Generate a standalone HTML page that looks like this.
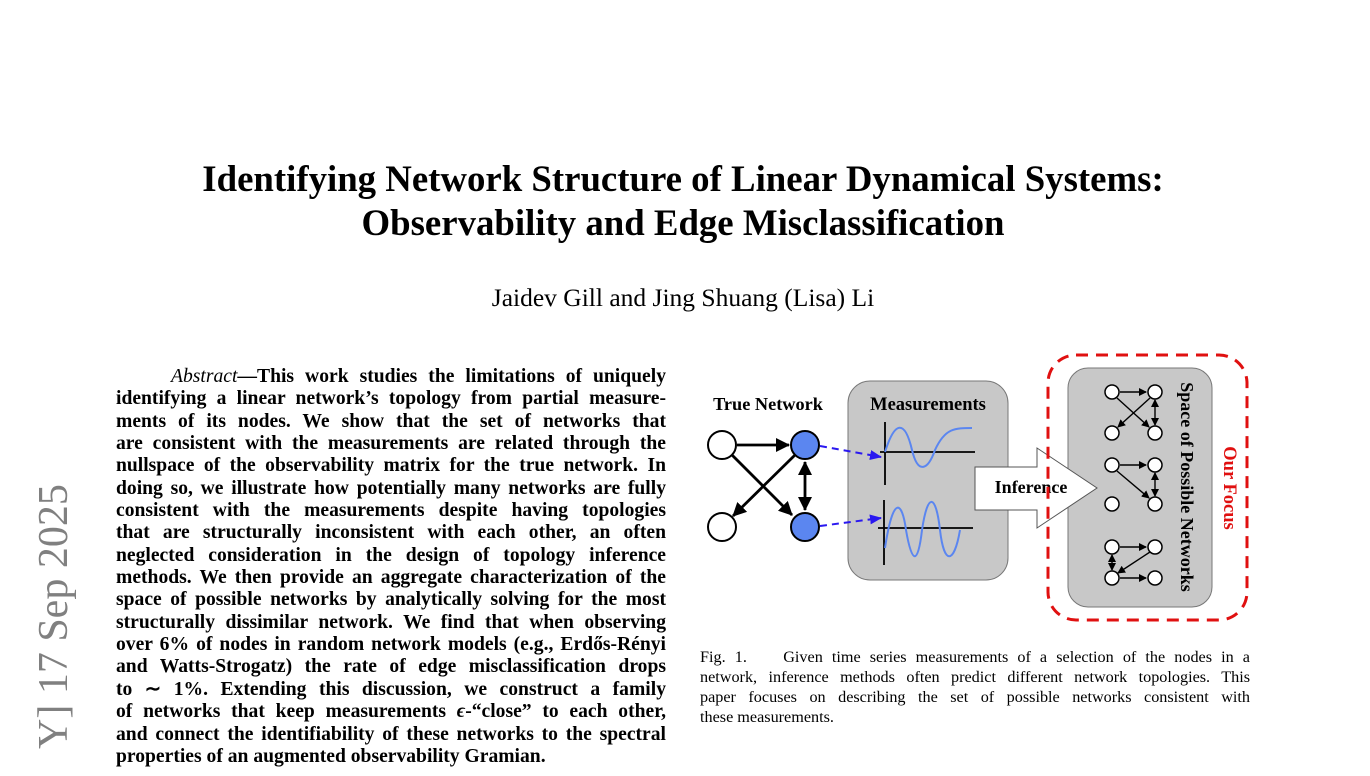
<!DOCTYPE html>
<html><head><meta charset="utf-8"><style>
body{margin:0;width:1370px;height:776px;background:#fff;position:relative;overflow:hidden;font-family:"Liberation Serif",serif;color:#000}
.t{position:absolute;left:0;width:1366px;text-align:center;font-weight:bold;font-size:36.8px}
.ab{position:absolute;left:116px;width:550px;font-weight:bold;font-size:19.6px;line-height:22.35px}
.ab div{text-align:justify;text-align-last:justify;white-space:nowrap;height:22.35px}
.cap{position:absolute;left:700px;width:550px;font-size:16.2px;line-height:20px}
.cap div{text-align:justify;text-align-last:justify;white-space:nowrap}
</style></head><body>
<div class="t" style="top:157px">Identifying Network Structure of Linear Dynamical Systems:</div>
<div class="t" style="top:201px">Observability and Edge Misclassification</div>
<div style="position:absolute;left:0;width:1366px;text-align:center;top:283px;font-size:25.5px">Jaidev Gill and Jing Shuang (Lisa) Li</div>
<div style="position:absolute;left:54px;top:770px;transform-origin:0 0;transform:rotate(-90deg);font-size:42px;color:#808080;white-space:nowrap;line-height:42px;margin-top:-21px;margin-left:-21px">Y] 17 Sep 2025</div>
<div class="ab" style="top:366px">
<div>&nbsp;&nbsp;&nbsp;&nbsp;&nbsp;<i style="font-weight:normal">Abstract</i>—This work studies the limitations of uniquely</div>
<div>identifying a linear network’s topology from partial measure-</div>
<div>ments of its nodes. We show that the set of networks that</div>
<div>are consistent with the measurements are related through the</div>
<div>nullspace of the observability matrix for the true network. In</div>
<div>doing so, we illustrate how potentially many networks are fully</div>
<div>consistent with the measurements despite having topologies</div>
<div>that are structurally inconsistent with each other, an often</div>
<div>neglected consideration in the design of topology inference</div>
<div>methods. We then provide an aggregate characterization of the</div>
<div>space of possible networks by analytically solving for the most</div>
<div>structurally dissimilar network. We find that when observing</div>
<div>over 6% of nodes in random network models (e.g., Erdős-Rényi</div>
<div>and Watts-Strogatz) the rate of edge misclassification drops</div>
<div>to ∼ 1%. Extending this discussion, we construct a family</div>
<div>of networks that keep measurements <i>ϵ</i>-“close” to each other,</div>
<div>and connect the identifiability of these networks to the spectral</div>
<div style="text-align-last:left">properties of an augmented observability Gramian.</div>
</div>
<div class="cap" style="top:647px">
<div>Fig. 1.&nbsp;&nbsp;&nbsp; Given time series measurements of a selection of the nodes in a</div>
<div>network, inference methods often predict different network topologies. This</div>
<div>paper focuses on describing the set of possible networks consistent with</div>
<div style="text-align-last:left">these measurements.</div>
</div>
<svg style="position:absolute;left:0;top:0" width="1370" height="776">
<defs>
<marker id="as" markerWidth="8" markerHeight="8" refX="7" refY="4" orient="auto-start-reverse" markerUnits="userSpaceOnUse"><path d="M0,0 L8,4 L0,8 z" fill="#000"/></marker>
<marker id="ab" markerWidth="14" markerHeight="14" refX="13" refY="7" orient="auto-start-reverse" markerUnits="userSpaceOnUse"><path d="M0,0 L14,7 L0,14 z" fill="#000"/></marker>
<marker id="bl" markerWidth="12" markerHeight="12" refX="11" refY="6" orient="auto" markerUnits="userSpaceOnUse"><path d="M0,1 L12,6 L0,11 z" fill="#2a18f0"/></marker>
</defs>
<text x="768" y="410" text-anchor="middle" font-family="Liberation Serif" font-weight="bold" font-size="18.3">True Network</text>
<rect x="848" y="381" width="160" height="199" rx="22" fill="#c8c8c8" stroke="#777"/>
<text x="928" y="410" text-anchor="middle" font-family="Liberation Serif" font-weight="bold" font-size="18.5">Measurements</text>
<g stroke="#000" stroke-width="2.8" fill="none">
<line x1="737" y1="445" x2="789" y2="445" marker-end="url(#ab)"/>
<line x1="732" y1="455" x2="792" y2="515" marker-end="url(#ab)"/>
<line x1="795" y1="455" x2="733" y2="516" marker-end="url(#ab)"/>
<line x1="805" y1="462" x2="805" y2="510" marker-start="url(#ab)" marker-end="url(#ab)"/>
</g>
<g stroke="#2a18f0" stroke-width="2" stroke-dasharray="7,5" fill="none">
<line x1="820" y1="446" x2="881" y2="457" marker-end="url(#bl)"/>
<line x1="820" y1="526" x2="881" y2="518" marker-end="url(#bl)"/>
</g>
<circle cx="722" cy="445" r="14" fill="#fff" stroke="#000" stroke-width="2"/>
<circle cx="722" cy="527" r="14" fill="#fff" stroke="#000" stroke-width="2"/>
<circle cx="805" cy="445" r="14" fill="#5b86f0" stroke="#000" stroke-width="2"/>
<circle cx="805" cy="527" r="14" fill="#5b86f0" stroke="#000" stroke-width="2"/>
<g stroke="#000" stroke-width="1.8">
<line x1="885" y1="422" x2="885" y2="485"/><line x1="880" y1="452" x2="975" y2="452"/>
<line x1="884" y1="500" x2="884" y2="565"/><line x1="878" y1="528" x2="973" y2="528"/>
</g>
<path d="M885,452 C895,420 905,420 912,450 C918,475 928,470 935,450 C945,428 955,428 972,428" stroke="#5b86f0" stroke-width="2" fill="none"/>
<path d="M885,548 C893,495 902,500 906,530 C912,565 918,565 922,530 C928,490 936,495 940,530 C944,565 954,565 960,530" stroke="#5b86f0" stroke-width="2" fill="none"/>
<rect x="1068" y="368" width="144" height="239" rx="20" fill="#c8c8c8" stroke="#777"/>
<path d="M975,467 L1037,467 L1037,448 L1097,488 L1037,528 L1037,510 L975,510 z" fill="#fff" stroke="#555"/>
<text x="1031" y="493" text-anchor="middle" font-family="Liberation Serif" font-weight="bold" font-size="18">Inference</text>
<rect x="1048" y="355" width="199" height="265" rx="28" fill="none" stroke="#e01010" stroke-width="3" stroke-dasharray="12,8"/>
<text transform="translate(1181,487) rotate(90)" text-anchor="middle" font-family="Liberation Serif" font-weight="bold" font-size="18">Space of Possible Networks</text>
<text transform="translate(1224,488) rotate(90)" text-anchor="middle" font-family="Liberation Serif" font-weight="bold" font-size="18.5" fill="#e01010">Our Focus</text>
<g stroke="#000" stroke-width="1.4" fill="none">
<line x1="1120" y1="392" x2="1146" y2="392" marker-end="url(#as)"/>
<line x1="1117" y1="398" x2="1149" y2="427" marker-end="url(#as)"/>
<line x1="1150" y1="398" x2="1118" y2="427" marker-end="url(#as)"/>
<line x1="1155" y1="400" x2="1155" y2="425" marker-start="url(#as)" marker-end="url(#as)"/>
<line x1="1120" y1="465" x2="1146" y2="465" marker-end="url(#as)"/>
<line x1="1117" y1="471" x2="1149" y2="498" marker-end="url(#as)"/>
<line x1="1155" y1="473" x2="1155" y2="496" marker-start="url(#as)" marker-end="url(#as)"/>
<line x1="1120" y1="547" x2="1146" y2="547" marker-end="url(#as)"/>
<line x1="1150" y1="552" x2="1118" y2="573" marker-end="url(#as)"/>
<line x1="1112" y1="555" x2="1112" y2="570" marker-start="url(#as)" marker-end="url(#as)"/>
<line x1="1120" y1="578" x2="1146" y2="578" marker-end="url(#as)"/>
</g>
<g fill="#fff" stroke="#000" stroke-width="1.5">
<circle cx="1112" cy="392" r="7"/><circle cx="1155" cy="392" r="7"/><circle cx="1112" cy="433" r="7"/><circle cx="1155" cy="433" r="7"/>
<circle cx="1112" cy="465" r="7"/><circle cx="1155" cy="465" r="7"/><circle cx="1112" cy="504" r="7"/><circle cx="1155" cy="504" r="7"/>
<circle cx="1112" cy="547" r="7"/><circle cx="1155" cy="547" r="7"/><circle cx="1112" cy="578" r="7"/><circle cx="1155" cy="578" r="7"/>
</g>
</svg>
</body></html>
